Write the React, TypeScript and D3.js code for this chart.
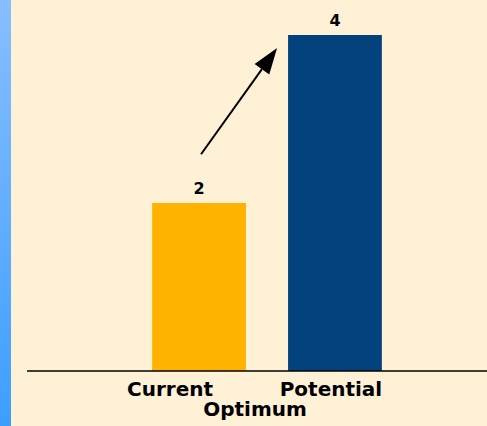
import * as React from "react";
import * as d3 from "d3";

const categories = ["Current", "Potential"];
const values = [2, 4];
const barColors = ["#FFB300", "#03427D"];
const axisTitle = "Optimum";

const W = 487;
const H = 426;
const BASE = 371;

export default function App() {
  const x = d3.scaleBand<string>().domain(categories).range([110, 424]).paddingInner(0.31).paddingOuter(0.31);
  const y = d3.scaleLinear().domain([0, 4]).range([BASE, 35]);

  // arrow from above the first bar towards the second
  const a0: [number, number] = [x("Current")! + x.bandwidth() / 2 + 2, y(2.58)];
  const a1: [number, number] = [x("Potential")! - 11, y(3.845)];
  const ang = Math.atan2(a1[1] - a0[1], a1[0] - a0[0]);
  const headLen = 26;
  const headW = 9;
  const bx = a1[0] - headLen * Math.cos(ang);
  const by = a1[1] - headLen * Math.sin(ang);
  const head = [
    a1,
    [bx + headW * Math.sin(ang), by - headW * Math.cos(ang)],
    [bx - headW * Math.sin(ang), by + headW * Math.cos(ang)],
  ] as [number, number][];

  const labelDx = [-29, -4];

  return (
    <div style={{ position: "fixed", left: 0, top: 0 }}>
      <svg width={W} height={H} style={{ display: "block", fontFamily: "'DejaVu Sans', Verdana, sans-serif" }}>
        <defs>
          <linearGradient id="strip" x1="0" y1="0" x2="0" y2="1">
            <stop offset="0" stopColor="#88BEFF" />
            <stop offset="1" stopColor="#3D9EFF" />
          </linearGradient>
        </defs>
        <rect width={W} height={H} fill="#FFF1D6" />
        <rect width={11} height={H} fill="url(#strip)" />

        {categories.map((c, i) => (
          <g key={c}>
            <rect x={x(c)} y={y(values[i])} width={x.bandwidth()} height={BASE - y(values[i])} fill={barColors[i]} />
            <text x={x(c)! + x.bandwidth() / 2} y={y(values[i]) - 9} textAnchor="middle" fontSize={16} fontWeight="bold" fill="#000">
              {values[i]}
            </text>
            <text x={x(c)! + x.bandwidth() / 2 + labelDx[i]} y={396} textAnchor="middle" fontSize={20} fontWeight="bold" fill="#000">
              {c}
            </text>
          </g>
        ))}

        <line x1={27} x2={W} y1={BASE} y2={BASE} stroke="#000" strokeWidth={1.5} />
        <text x={255} y={416} textAnchor="middle" fontSize={20} fontWeight="bold" fill="#000">
          {axisTitle}
        </text>

        <line x1={a0[0]} y1={a0[1]} x2={bx} y2={by} stroke="#000" strokeWidth={2} />
        <polygon points={head.map((p) => p.join(",")).join(" ")} fill="#000" />
      </svg>
    </div>
  );
}
